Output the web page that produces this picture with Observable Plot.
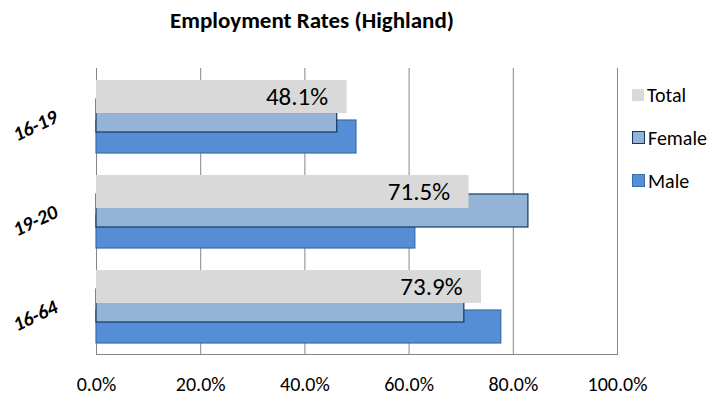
<!DOCTYPE html>
<html>
<head>
<meta charset="utf-8">
<script src="https://cdn.jsdelivr.net/npm/d3@7"></script>
<script src="https://cdn.jsdelivr.net/npm/@observablehq/plot@0.6"></script>
<style>
  body { margin: 0; background: #fff; }
  #wrap { position: relative; width: 716px; height: 397px; font-family: Carlito, Calibri, Lato, sans-serif; }
  #title { position: absolute; top: 6px; left: 0; width: 624px; text-align: center; font-weight: bold; font-size: 23px; line-height: 28px; color: #000; z-index: 2; }
  #legend { position: absolute; left: 632px; top: 73px; font-size: 20px; color: #000; z-index: 2; }
  .item { display: flex; align-items: center; height: 43px; }
  .sw { width: 12px; height: 12px; margin-right: 3px; box-sizing: border-box; }
  svg { position: absolute; left: 0; top: 0; }
</style>
</head>
<body>
<div id="wrap">
  <div id="title"></div>
  <div id="legend"></div>
</div>
<script>
const titleText = "Employment Rates (Highland)";
const categories = ["16-19", "19-20", "16-64"];
const seriesNames = ["Total", "Female", "Male"];
const totalValues = [48.1, 71.5, 73.9];
const femaleValues = [46.2, 82.9, 70.6];
const maleValues = [49.9, 61.2, 77.7];
const xTicks = [0, 20, 40, 60, 80, 100];

const fills = { Total: "#D9D9D9", Female: "#95B3D7", Male: "#558ED5" };
const strokes = { Total: "none", Female: "#17375E", Male: "#3A6CAA" };
const offsets = { Total: -20, Female: -1, Male: 20 };

const rows = s => categories.map((c, i) => ({
  category: c,
  series: s,
  value: (s === "Total" ? totalValues : s === "Female" ? femaleValues : maleValues)[i]
}));

const barFor = s => Plot.barX(rows(s), {
  x: "value", y: "category",
  fill: fills[s], stroke: strokes[s], strokeWidth: 1.2,
  insetTop: 31, insetBottom: 31, dy: offsets[s]
});

const chart = Plot.plot({
  width: 716, height: 397,
  marginTop: 68, marginBottom: 43, marginLeft: 96, marginRight: 99,
  style: { fontFamily: "Carlito, Calibri, Lato, sans-serif", background: "transparent" },
  x: { domain: [0, 100], ticks: xTicks, tickFormat: d => d.toFixed(1) + "%", label: null },
  y: { domain: categories, padding: 0, label: null },
  marks: [
    Plot.gridX(xTicks, { stroke: "#868686", strokeOpacity: 1, strokeWidth: 1 }),
    Plot.frame({ anchor: "bottom", stroke: "#868686" }),
    barFor("Male"),
    barFor("Female"),
    barFor("Total"),
    Plot.text(rows("Total"), {
      x: "value", y: "category", text: d => d.value.toFixed(1) + "%",
      textAnchor: "end", dx: -19, dy: offsets.Total, fontSize: 25, fill: "#000"
    }),
    Plot.axisX({ ticks: xTicks, tickFormat: d => d.toFixed(1) + "%", tickSize: 0, tickPadding: 22, fontSize: 20, fill: "#000", label: null }),
    Plot.axisY({ tickSize: 0, tickPadding: 40, tickRotate: -25, fontSize: 20, fontWeight: "bold", fontStyle: "italic", fill: "#000", dy: -1, label: null })
  ]
});

document.getElementById("wrap").appendChild(chart);
document.getElementById("title").textContent = titleText;
const legend = document.getElementById("legend");
for (const s of seriesNames) {
  const it = document.createElement("div");
  it.className = "item";
  const sw = document.createElement("div");
  sw.className = "sw";
  sw.style.background = fills[s];
  if (strokes[s] !== "none") { sw.style.border = "1.5px solid " + strokes[s]; sw.style.width = "13px"; sw.style.height = "13px"; }
  const lab = document.createElement("span");
  lab.textContent = s;
  it.appendChild(sw); it.appendChild(lab);
  legend.appendChild(it);
}
</script>
</body>
</html>
